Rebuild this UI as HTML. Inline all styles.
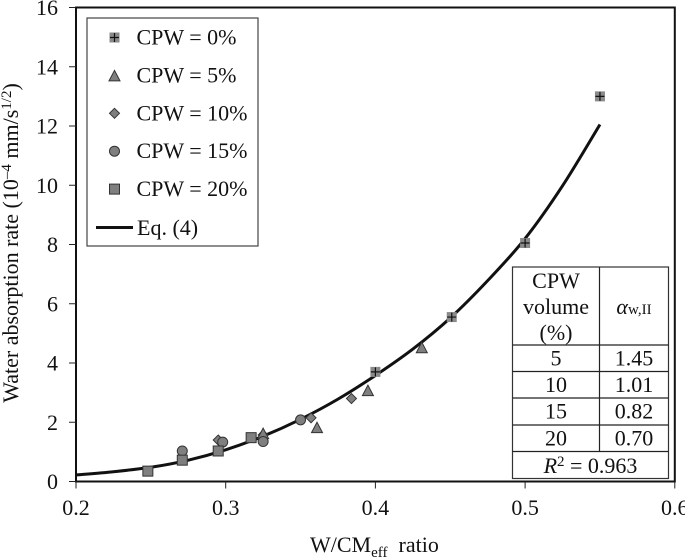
<!DOCTYPE html>
<html>
<head>
<meta charset="utf-8">
<style>
html,body{margin:0;padding:0;background:#fff;}
svg{display:block;font-family:"Liberation Serif",serif;fill:#111;}
</style>
</head>
<body>
<svg id="chart" width="685" height="559" viewBox="0 0 685 559" xmlns="http://www.w3.org/2000/svg"></svg>
<script>
const xTicks = [0.2, 0.3, 0.4, 0.5, 0.6];
const yTicks = [0, 2, 4, 6, 8, 10, 12, 14, 16];
const cpw0 = [[0.4, 3.7], [0.451, 5.55], [0.5, 8.05], [0.55, 13.0]];
const cpw5 = [[0.325, 1.6], [0.361, 1.8], [0.395, 3.05], [0.431, 4.5]];
const cpw10 = [[0.295, 1.4], [0.325, 1.57], [0.357, 2.15], [0.384, 2.8]];
const cpw15 = [[0.271, 1.03], [0.298, 1.33], [0.325, 1.35], [0.35, 2.08]];
const cpw20 = [[0.248, 0.35], [0.271, 0.72], [0.295, 1.03], [0.317, 1.48]];
const curveX = [0.2, 0.225, 0.25, 0.275, 0.3, 0.325, 0.35, 0.375, 0.4, 0.425, 0.45, 0.475, 0.5, 0.525, 0.55];
const curveY = [0.22, 0.33, 0.48, 0.72, 1.07, 1.53, 2.1, 2.78, 3.58, 4.47, 5.52, 6.78, 8.2, 9.98, 12.05];
const legendLabels = ['CPW = 0%', 'CPW = 5%', 'CPW = 10%', 'CPW = 15%', 'CPW = 20%'];
const tableRows = [['5', '1.45'], ['10', '1.01'], ['15', '0.82'], ['20', '0.70']];

const svg = document.getElementById('chart');
const NS = 'http://www.w3.org/2000/svg';
const sx = v => 76 + (v - 0.2) / 0.4 * 598.8;
const sy = v => 481.5 - v / 16 * 474;
const MARK = '#7f7f7f';
const FS = 22;
const FSS = 15;

function mk(tag, attrs, parent) {
  const el = document.createElementNS(NS, tag);
  for (const k in attrs) el.setAttribute(k, attrs[k]);
  (parent || svg).appendChild(el);
  return el;
}
function txt(str, x, y, size, anchor, parent) {
  const t = mk('text', {x: x, y: y, 'font-size': size, 'text-anchor': anchor || 'start'}, parent);
  t.textContent = str;
  return t;
}
function marker(kind, x, y, parent) {
  const st = {fill: MARK, stroke: '#333', 'stroke-width': 1};
  if (kind === 'plus') {
    mk('rect', {x: x - 5, y: y - 5, width: 10, height: 10, fill: '#8a8a8a'}, parent);
    mk('path', {d: `M${x - 4.5} ${y}H${x + 4.5}M${x} ${y - 4.5}V${y + 4.5}`, stroke: '#111', 'stroke-width': 1.2, fill: 'none'}, parent);
  } else if (kind === 'tri') {
    mk('path', Object.assign({d: `M${x} ${y - 6}L${x + 5.5} ${y + 4.5}H${x - 5.5}Z`}, st), parent);
  } else if (kind === 'dia') {
    mk('path', Object.assign({d: `M${x} ${y - 5}L${x + 5} ${y}L${x} ${y + 5}L${x - 5} ${y}Z`}, st), parent);
  } else if (kind === 'circ') {
    mk('circle', Object.assign({cx: x, cy: y, r: 5}, st), parent);
  } else {
    mk('rect', Object.assign({x: x - 5, y: y - 5, width: 10, height: 10}, st), parent);
  }
}
function smoothPath(pts) {
  let d = `M${pts[0][0]} ${pts[0][1]}`;
  for (let i = 0; i < pts.length - 1; i++) {
    const p0 = pts[Math.max(i - 1, 0)], p1 = pts[i], p2 = pts[i + 1], p3 = pts[Math.min(i + 2, pts.length - 1)];
    const c1x = p1[0] + (p2[0] - p0[0]) / 6, c1y = p1[1] + (p2[1] - p0[1]) / 6;
    const c2x = p2[0] - (p3[0] - p1[0]) / 6, c2y = p2[1] - (p3[1] - p1[1]) / 6;
    d += `C${c1x} ${c1y} ${c2x} ${c2y} ${p2[0]} ${p2[1]}`;
  }
  return d;
}

/* axes */
const axes = mk('g', {});


mk('path', {d: `M${sx(0.2)} ${sy(16)}H${sx(0.6)}V${sy(0)}H${sx(0.2)}Z`, fill: 'none', stroke: '#111', 'stroke-width': 2}, axes);
xTicks.forEach(v => {
  mk('line', {x1: sx(v), x2: sx(v), y1: sy(0), y2: sy(0) + 7, stroke: '#222', 'stroke-width': 1}, axes);
  const t = txt(v.toFixed(1), sx(v), 515, FS, 'middle', axes);
  
  
});
yTicks.forEach(v => {
  mk('line', {x1: sx(0.2) - 7, x2: sx(0.2), y1: sy(v), y2: sy(v), stroke: '#222', 'stroke-width': 1}, axes);
  const t = txt(String(v), 58, sy(v) + 7.5, FS, 'end', axes);
  
  
});

/* axis titles */
const xTitle = mk('text', {x: 310, y: 552, 'font-size': FS, 'text-anchor': 'start'});


xTitle.innerHTML = 'W/CM<tspan font-size="' + FSS + '" dy="5">eff</tspan><tspan dy="-5" dx="11">ratio</tspan>';
const yTitle = mk('text', {x: 0, y: 0, 'font-size': FS, 'text-anchor': 'middle', transform: 'translate(18 243) rotate(-90)'});


yTitle.innerHTML = 'Water absorption rate (10<tspan font-size="' + FSS + '" dy="-7">–4</tspan><tspan dy="7"> mm/s</tspan><tspan font-size="' + FSS + '" dy="-7">1/2</tspan><tspan dy="7">)</tspan>';

/* fitted curve */
const line = mk('path', {
  d: smoothPath(curveX.map((v, i) => [sx(v), sy(curveY[i])])),
  fill: 'none', stroke: '#111', 'stroke-width': 3, 'stroke-linejoin': 'round'
});



/* points */
const seriesList = [['dia', cpw10], ['tri', cpw5], ['circ', cpw15], ['plus', cpw0], ['rect', cpw20]];
seriesList.forEach(s => {
  const g = mk('g', {});
  
  
  s[1].forEach(p => marker(s[0], sx(p[0]), sy(p[1]), g));
});

/* legend */
const legend = mk('g', {});


mk('rect', {x: 87, y: 18, width: 171, height: 228, fill: '#fff', stroke: '#444', 'stroke-width': 1.2}, legend);
const kinds = ['plus', 'tri', 'dia', 'circ', 'rect'];
legendLabels.forEach((lab, i) => {
  const y = 37.5 + i * 37.9;
  marker(kinds[i], 114.5, y + (kinds[i] === 'tri' ? 1 : 0), legend);
  const t = txt(lab, 136.5, y + 7, FS, 'start', legend);
  
  
});
mk('line', {x1: 96, x2: 133, y1: 227.5, y2: 227.5, stroke: '#111', 'stroke-width': 3}, legend);
const eqLab = txt('Eq. (4)', 137, 235, FS, 'start', legend);



/* table */
const tbl = mk('g', {});


const tL = 512.5, tM = 599.5, tR = 668.5;
const rowY = [345, 371.5, 398, 425, 451.5];
mk('rect', {x: tL, y: 267, width: tR - tL, height: 211.5, fill: '#fff', stroke: '#333', 'stroke-width': 1.2}, tbl);
mk('line', {x1: tM, x2: tM, y1: 267, y2: 451.5, stroke: '#222', 'stroke-width': 1.2}, tbl);
rowY.forEach(y => mk('line', {x1: tL, x2: tR, y1: y, y2: y, stroke: '#222', 'stroke-width': 1.2}, tbl));
txt('CPW', 556, 288, FS, 'middle', tbl);
txt('volume', 556, 314, FS, 'middle', tbl);
txt('(%)', 556, 340, FS, 'middle', tbl);
const alpha = mk('text', {x: 634, y: 314, 'font-size': FS, 'text-anchor': 'middle'}, tbl);
alpha.innerHTML = '<tspan font-style="italic">α</tspan><tspan font-size="' + FSS + '">w,II</tspan>';
tableRows.forEach((r, i) => {
  txt(r[0], 556, rowY[i] + 20.5, FS, 'middle', tbl);
  txt(r[1], 634, rowY[i] + 20.5, FS, 'middle', tbl);
});
const r2 = mk('text', {x: 590.5, y: 473, 'font-size': FS, 'text-anchor': 'middle'}, tbl);
r2.innerHTML = '<tspan font-style="italic">R</tspan><tspan font-size="' + FSS + '" dy="-7">2</tspan><tspan dy="7"> = 0.963</tspan>';
</script>
</body>
</html>
